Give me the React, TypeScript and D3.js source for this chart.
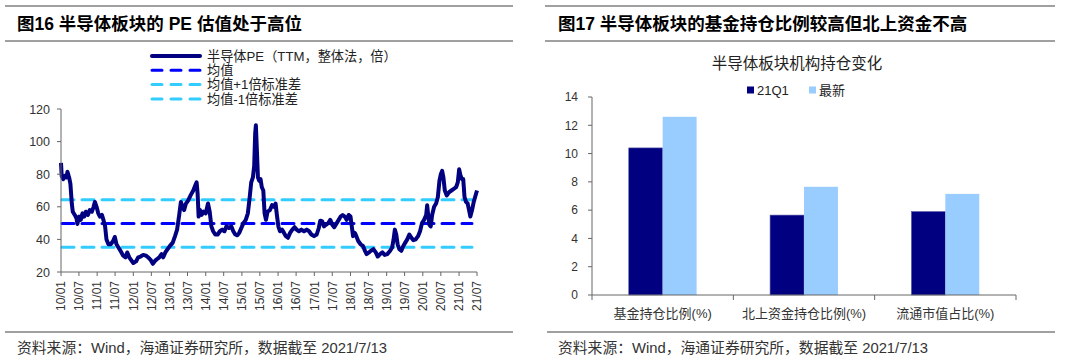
import * as d3 from 'd3';

// 半导体PE（TTM，整体法，倍）
const peSeries: [string, number][] = [
  ['2010-01-01', 87], ['2010-01-08', 79], ['2010-01-24', 77], ['2010-02-10', 79], ['2010-02-27', 78],
  ['2010-03-07', 81.5], ['2010-03-24', 78], ['2010-04-06', 74], ['2010-04-20', 62], ['2010-04-30', 57],
  ['2010-05-20', 55], ['2010-06-06', 53], ['2010-06-16', 49.5], ['2010-07-03', 54], ['2010-07-20', 52],
  ['2010-08-06', 56], ['2010-08-23', 54], ['2010-09-09', 57], ['2010-09-29', 55], ['2010-10-19', 58],
  ['2010-11-09', 57], ['2010-11-26', 60], ['2010-12-09', 63], ['2010-12-26', 60], ['2011-01-12', 56],
  ['2011-01-29', 54], ['2011-02-18', 55], ['2011-03-05', 52], ['2011-03-22', 48], ['2011-04-05', 40],
  ['2011-04-25', 37], ['2011-05-18', 37], ['2011-06-11', 39], ['2011-06-28', 41.5], ['2011-07-15', 37],
  ['2011-08-04', 35], ['2011-08-24', 33], ['2011-09-21', 30], ['2011-10-14', 29], ['2011-11-01', 32],
  ['2011-11-21', 29], ['2011-12-14', 27], ['2012-01-01', 25.5], ['2012-01-28', 26.5], ['2012-02-20', 29],
  ['2012-03-14', 29.5], ['2012-04-10', 30.5], ['2012-05-07', 30], ['2012-05-30', 29], ['2012-06-23', 27.5],
  ['2012-07-16', 25], ['2012-08-09', 27], ['2012-08-29', 28], ['2012-09-19', 29], ['2012-10-12', 31],
  ['2012-10-29', 29], ['2012-11-19', 32], ['2012-12-12', 34], ['2013-01-05', 36], ['2013-02-02', 38],
  ['2013-02-25', 42], ['2013-03-18', 46], ['2013-04-08', 55], ['2013-04-25', 63], ['2013-05-12', 60],
  ['2013-05-28', 58], ['2013-06-15', 62], ['2013-07-08', 64], ['2013-08-01', 67], ['2013-08-28', 70],
  ['2013-09-17', 73], ['2013-10-01', 75], ['2013-10-11', 68], ['2013-10-21', 54], ['2013-11-04', 58],
  ['2013-11-20', 55], ['2013-12-10', 57], ['2014-01-01', 56], ['2014-01-24', 62], ['2014-02-10', 57],
  ['2014-02-27', 48], ['2014-03-17', 45], ['2014-04-07', 43], ['2014-05-01', 43], ['2014-05-24', 45],
  ['2014-06-16', 46], ['2014-07-09', 45], ['2014-07-29', 48], ['2014-08-23', 47], ['2014-09-16', 48],
  ['2014-10-06', 45], ['2014-10-26', 43], ['2014-11-16', 42.5], ['2014-12-05', 44], ['2014-12-26', 47],
  ['2015-01-16', 50], ['2015-02-09', 52], ['2015-03-02', 56], ['2015-03-19', 65], ['2015-04-05', 75],
  ['2015-04-22', 78], ['2015-05-05', 85], ['2015-05-15', 105], ['2015-05-22', 110], ['2015-06-01', 95],
  ['2015-06-12', 78], ['2015-06-25', 76], ['2015-07-08', 77], ['2015-07-21', 72], ['2015-08-05', 70],
  ['2015-08-18', 56], ['2015-09-01', 52], ['2015-09-17', 57], ['2015-10-11', 58], ['2015-11-01', 61],
  ['2015-11-21', 60], ['2015-12-07', 62], ['2015-12-20', 55], ['2016-01-04', 48], ['2016-01-20', 45],
  ['2016-02-10', 46], ['2016-03-01', 44], ['2016-03-20', 42], ['2016-04-10', 41], ['2016-05-01', 44],
  ['2016-05-24', 46], ['2016-06-16', 47.5], ['2016-07-06', 46], ['2016-07-30', 45], ['2016-08-23', 46],
  ['2016-09-19', 45], ['2016-10-16', 46], ['2016-11-09', 45], ['2016-12-02', 43], ['2016-12-29', 42],
  ['2017-01-25', 43], ['2017-02-15', 47], ['2017-03-02', 51.5], ['2017-03-22', 51], ['2017-04-08', 48],
  ['2017-04-28', 49], ['2017-05-22', 50], ['2017-06-11', 52], ['2017-07-01', 49], ['2017-07-21', 47.5],
  ['2017-08-15', 50], ['2017-09-04', 52], ['2017-09-24', 54], ['2017-10-14', 55], ['2017-11-04', 54],
  ['2017-11-24', 52], ['2017-12-14', 55], ['2018-01-01', 54], ['2018-01-14', 48], ['2018-01-27', 42],
  ['2018-02-14', 44], ['2018-03-01', 42], ['2018-03-20', 39], ['2018-04-13', 37], ['2018-05-07', 36],
  ['2018-05-27', 33], ['2018-06-13', 31], ['2018-07-06', 32], ['2018-07-26', 33], ['2018-08-20', 34],
  ['2018-09-13', 32], ['2018-10-03', 29.5], ['2018-10-26', 31], ['2018-11-19', 32], ['2018-12-12', 30.5],
  ['2019-01-09', 31], ['2019-02-05', 33], ['2019-02-25', 35], ['2019-03-12', 40], ['2019-03-25', 46],
  ['2019-04-08', 43], ['2019-04-22', 37], ['2019-05-09', 34], ['2019-05-29', 33], ['2019-06-18', 36],
  ['2019-07-08', 38], ['2019-07-28', 40], ['2019-08-18', 43], ['2019-09-08', 41], ['2019-09-28', 39.5],
  ['2019-10-21', 40], ['2019-11-14', 42], ['2019-12-04', 45], ['2019-12-24', 50], ['2020-01-14', 52],
  ['2020-02-04', 55], ['2020-02-14', 61], ['2020-02-24', 55], ['2020-03-07', 49], ['2020-03-21', 48],
  ['2020-04-04', 55], ['2020-04-24', 60], ['2020-05-14', 62], ['2020-06-01', 66], ['2020-06-17', 76],
  ['2020-07-01', 80], ['2020-07-14', 82], ['2020-07-27', 78], ['2020-08-10', 70], ['2020-08-30', 67],
  ['2020-09-23', 69], ['2020-10-16', 70], ['2020-11-09', 71], ['2020-12-02', 72], ['2020-12-19', 75],
  ['2021-01-02', 83], ['2021-01-16', 79], ['2021-01-29', 77], ['2021-02-12', 77], ['2021-02-25', 66],
  ['2021-03-12', 63], ['2021-03-29', 62], ['2021-04-15', 57], ['2021-04-25', 54], ['2021-05-12', 58],
  ['2021-05-29', 63], ['2021-06-12', 66], ['2021-07-01', 70],
];
const peMean = 49.8;
const peUpper = 64.4;
const peLower = 35.2;
const peTicks = [20, 40, 60, 80, 100, 120];
const xTickLabels = [
  '10/01', '10/07', '11/01', '11/07', '12/01', '12/07', '13/01', '13/07', '14/01', '14/07', '15/01', '15/07',
  '16/01', '16/07', '17/01', '17/07', '18/01', '18/07', '19/01', '19/07', '20/01', '20/07', '21/01', '21/07',
];
const peLegend = ['半导体PE（TTM，整体法，倍）', '均值', '均值+1倍标准差', '均值-1倍标准差'];

const holdCategories = ['基金持仓比例(%)', '北上资金持仓比例(%)', '流通市值占比(%)'];
const holdSeries = ['21Q1', '最新'];
const q1Values = [10.4, 5.65, 5.9];
const latestValues = [12.6, 7.65, 7.15];
const holdTicks = [0, 2, 4, 6, 8, 10, 12, 14];

const FONT = "'Liberation Sans', 'Noto Sans CJK SC', sans-serif";
const NAVY = '#000080';
const BLUE = '#0000ff';
const CYAN = '#33ccff';
const LIGHT = '#99ccff';
const AXIS = '#666';
const RULE = '#808080';
const SOURCE = '资料来源：Wind，海通证券研究所，数据截至 2021/7/13';

function LeftChart() {
  const parse = d3.timeParse('%Y-%m-%d');
  const parseTick = d3.timeParse('%y/%m');
  const data = peSeries.map(([d, v]) => ({ date: parse(d) as Date, value: v }));
  const ticks = xTickLabels.map(t => ({ label: t, date: parseTick(t) as Date }));

  const x = d3.scaleTime()
    .domain([ticks[0].date, ticks[ticks.length - 1].date])
    .range([61, 477]);
  const y = d3.scaleLinear().domain([20, 120]).range([272, 109]);

  const line = d3.line<{ date: Date; value: number }>()
    .x(d => x(d.date))
    .y(d => y(d.value));

  const refLines = [
    { v: peUpper, color: CYAN },
    { v: peMean, color: BLUE },
    { v: peLower, color: CYAN },
  ];
  const legendColors = [NAVY, BLUE, CYAN, CYAN];

  return (
    <g>
      <line x1={5} x2={513} y1={6} y2={6} stroke={RULE} strokeWidth={1.5} />
      <text x={17} y={30} fontSize={17.5} fontWeight="bold" fontFamily={FONT} fill="#000">
        图16 半导体板块的 PE 估值处于高位
      </text>
      <line x1={5} x2={513} y1={41} y2={41} stroke={RULE} strokeWidth={1.5} />

      {peLegend.map((t, i) => (
        <g key={t} transform={`translate(0, ${56 + i * 14.3})`}>
          {i === 0 ? (
            <line x1={152} x2={200} y1={0} y2={0} stroke={NAVY} strokeWidth={4} strokeLinecap="round" />
          ) : (
            <line x1={152} x2={202} y1={0} y2={0} stroke={legendColors[i]} strokeWidth={3}
              strokeDasharray="10 9" strokeLinecap="round" />
          )}
          <text x={207} y={0} dy="0.36em" fontSize={13.2} fontFamily={FONT} fill="#222">{t}</text>
        </g>
      ))}

      {refLines.map(r => (
        <line key={r.v} x1={62} x2={472} y1={y(r.v)} y2={y(r.v)} stroke={r.color} strokeWidth={3}
          strokeDasharray="12 8" strokeLinecap="round" />
      ))}

      <path d={line(data) ?? ''} fill="none" stroke={NAVY} strokeWidth={4} strokeLinejoin="round" />

      <line x1={61} x2={61} y1={109} y2={272} stroke={AXIS} />
      {peTicks.map(t => (
        <g key={t}>
          <line x1={57} x2={61} y1={y(t)} y2={y(t)} stroke={AXIS} />
          <text x={50} y={y(t)} dy="0.36em" textAnchor="end" fontSize={12.5} fontFamily={FONT} fill="#333">{t}</text>
        </g>
      ))}
      <line x1={61} x2={477} y1={272} y2={272} stroke={AXIS} />
      {ticks.map(t => (
        <g key={t.label}>
          <line x1={x(t.date)} x2={x(t.date)} y1={272} y2={276} stroke={AXIS} />
          <text transform={`translate(${x(t.date)}, 281) rotate(-90)`} textAnchor="end" dy="0.36em"
            fontSize={12} fontFamily={FONT} fill="#333">{t.label}</text>
        </g>
      ))}

      <line x1={5} x2={513} y1={332} y2={332} stroke={RULE} strokeWidth={1.5} />
      <text x={17} y={353} fontSize={14.8} fontFamily={FONT} fill="#333">{SOURCE}</text>
    </g>
  );
}

function RightChart() {
  const x0 = d3.scaleBand().domain(holdCategories).range([592, 1016]).paddingInner(0.52).paddingOuter(0.26);
  const x1 = d3.scaleBand().domain(holdSeries).range([0, x0.bandwidth()]);
  const y = d3.scaleLinear().domain([0, 14]).range([295, 97]);
  const colors = [NAVY, LIGHT];
  const values = [q1Values, latestValues];
  const step = x0.step();

  return (
    <g>
      <line x1={545} x2={1055} y1={6} y2={6} stroke={RULE} strokeWidth={1.5} />
      <text x={558} y={30} fontSize={17.5} fontWeight="bold" fontFamily={FONT} fill="#000">
        图17 半导体板块的基金持仓比例较高但北上资金不高
      </text>
      <line x1={545} x2={1055} y1={41} y2={41} stroke={RULE} strokeWidth={1.5} />

      <text x={797} y={63} dy="0.36em" textAnchor="middle" fontSize={15.5} fontFamily={FONT} fill="#222">
        半导体板块机构持仓变化
      </text>
      {holdSeries.map((s, i) => (
        <g key={s} transform={`translate(${747 + i * 62}, 90)`}>
          <rect x={0} y={-3.5} width={7} height={7} fill={colors[i]} />
          <text x={10} y={0} dy="0.36em" fontSize={13} fontFamily={FONT} fill="#222">{s}</text>
        </g>
      ))}

      {holdCategories.map((c, ci) => (
        <g key={c} transform={`translate(${x0(c)}, 0)`}>
          {holdSeries.map((s, si) => (
            <rect key={s} x={x1(s)} y={y(values[si][ci])} width={x1.bandwidth()}
              height={y(0) - y(values[si][ci])} fill={colors[si]}
              stroke={si === 0 ? '#5a5aa8' : 'none'} strokeWidth={0.6} />
          ))}
          <text x={x0.bandwidth() / 2} y={313} dy="0.36em" textAnchor="middle" fontSize={13}
            fontFamily={FONT} fill="#333">{c}</text>
        </g>
      ))}

      <line x1={592} x2={592} y1={97} y2={295} stroke={AXIS} />
      {holdTicks.map(t => (
        <g key={t}>
          <line x1={588} x2={592} y1={y(t)} y2={y(t)} stroke={AXIS} />
          <text x={578} y={y(t)} dy="0.36em" textAnchor="end" fontSize={12} fontFamily={FONT} fill="#333">{t}</text>
        </g>
      ))}
      <line x1={592} x2={1016} y1={295} y2={295} stroke={AXIS} />
      {d3.range(holdCategories.length + 1).map(i => (
        <line key={i} x1={592 + i * step} x2={592 + i * step} y1={295} y2={300} stroke={AXIS} />
      ))}

      <line x1={547} x2={1055} y1={332} y2={332} stroke={RULE} strokeWidth={1.5} />
      <text x={558} y={353} fontSize={14.8} fontFamily={FONT} fill="#333">{SOURCE}</text>
    </g>
  );
}

export default function App() {
  return (
    <svg width={1080} height={364} style={{ position: 'absolute', left: 0, top: 0, background: '#fff' }}>
      <rect width={1080} height={364} fill="#fff" />
      <LeftChart />
      <RightChart />
    </svg>
  );
}
